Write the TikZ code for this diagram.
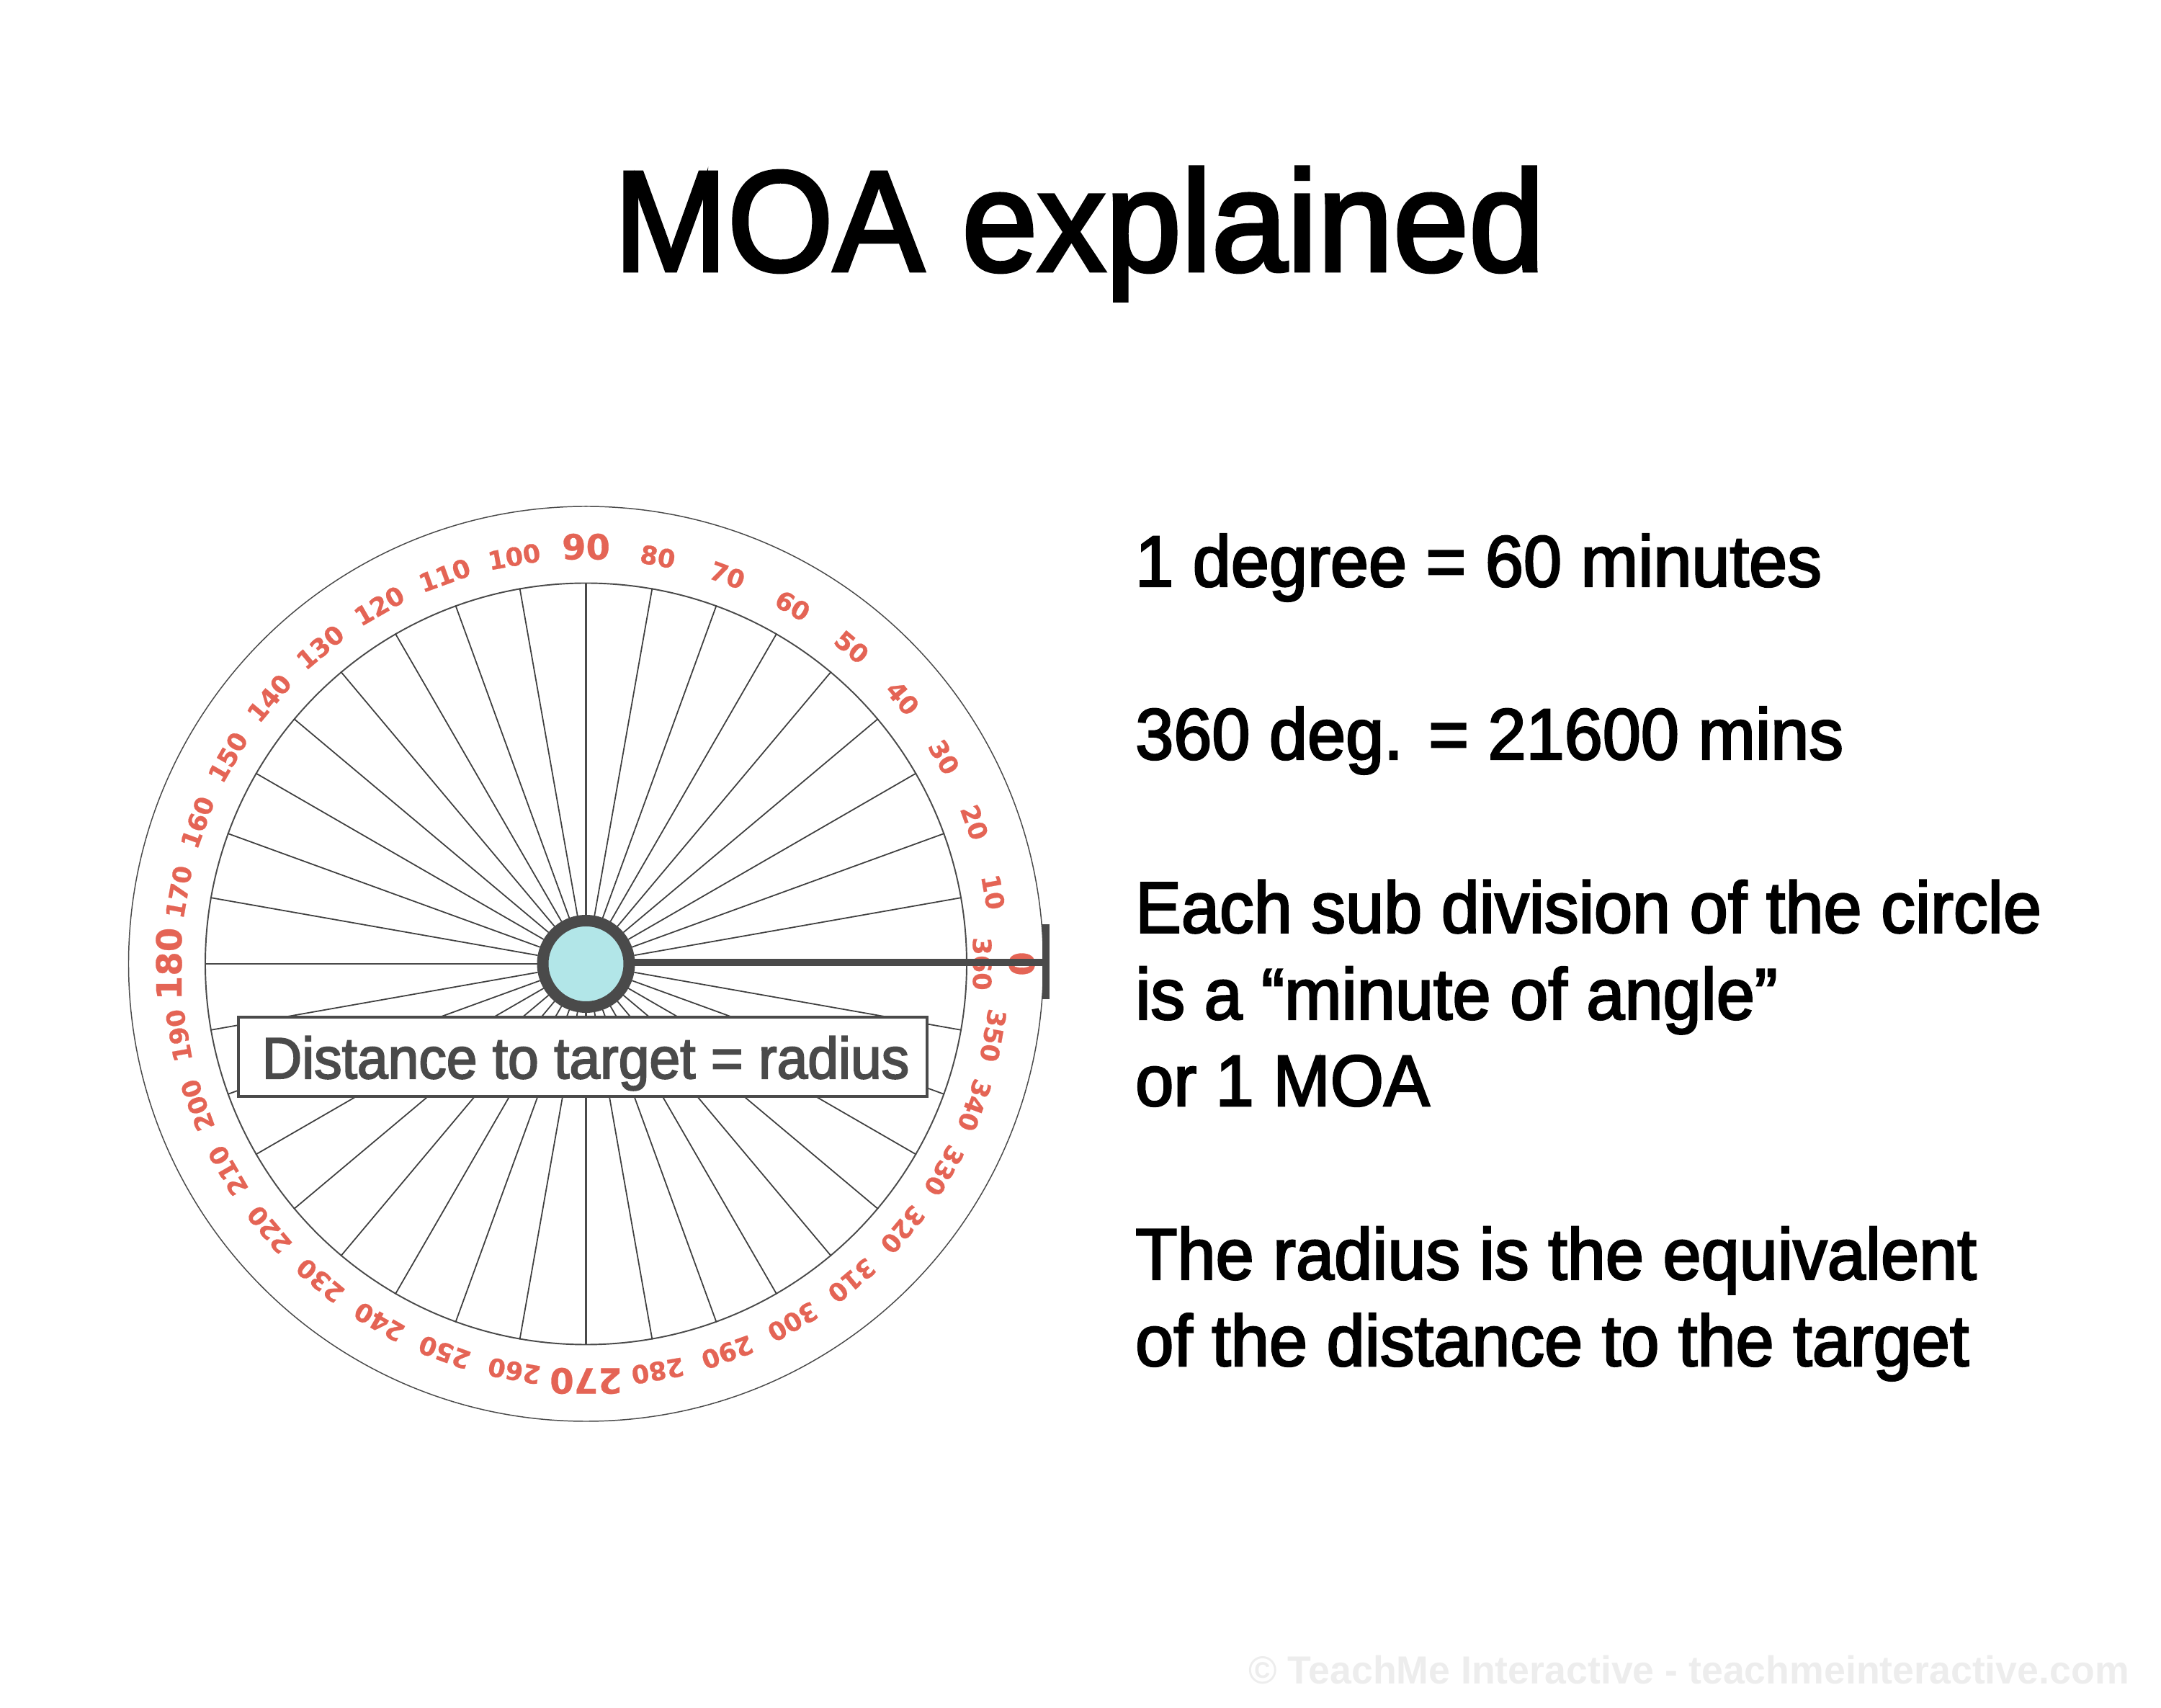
\documentclass[tikz,border=0pt]{standalone}
\usepackage{fontspec}
\setmainfont{Liberation Sans}[FakeBold=2.5,FakeStretch=0.95]
\newfontfamily\dialfont{DejaVu Sans}[BoldFeatures={FakeBold=0.6}]
\newfontfamily\markfont{Liberation Sans}[FakeStretch=0.985]
\definecolor{dialred}{RGB}{228, 100, 85}
\definecolor{hubgrey}{RGB}{74, 74, 74}
\definecolor{hubcyan}{RGB}{178, 230, 232}
\definecolor{markgrey}{RGB}{237, 237, 237}
\usetikzlibrary{positioning}
\tikzset{
  ringline/.style={draw=hubgrey, circle, inner sep=0pt, line width=0.42pt},
  spoke/.style={draw=hubgrey!85!black, line width=0.5pt},
  axisspoke/.style={draw=hubgrey, line width=0.75pt},
  pointer/.style={draw=hubgrey, line width=2.6pt},
  smalldeg/.style={text=dialred, inner sep=0pt, font=\dialfont\bfseries\fontsize{10}{10}\selectfont},
  bigdeg/.style={text=dialred, inner sep=0pt, font=\dialfont\bfseries\fontsize{13.7}{13.7}\selectfont},
  bodytext/.style={anchor=base west, align=left, inner sep=0pt, font=\fontsize{28.6}{34.2}\selectfont}
}

\begin{document}
\begin{tikzpicture}
  \useasboundingbox (-8.135, -10.33) rectangle (21.865, 13.38);

  % Title
  \node[anchor=base, inner sep=0pt, font=\fontsize{56.6}{56.6}\selectfont] (title) at (6.85, 9.62) {MOA explained};

  % Dial
  \node[ringline, minimum size=12.7cm] (dial) at (0, 0) {};
  \node[ringline, line width=0.55pt, minimum size=10.57cm] (rim) at (0, 0) {};
  \node[draw=hubgrey, fill=hubcyan, circle, inner sep=0pt, line width=4.55pt, minimum size=1.2cm] (hub) at (0, 0) {};
  \foreach \a in {10,20,...,80,100,110,...,170,190,200,...,260,280,290,...,350}
    \draw[spoke] (hub.\a) -- (rim.\a);
  \foreach \a in {90,180,270}
    \draw[axisspoke] (hub.\a) -- (rim.\a);

  % Degree labels
  \foreach \a in {10,20,...,80,100,110,...,170,190,200,...,260,280,290,...,350}
    \node[smalldeg, rotate=\a-90] (deg\a) at (\a:5.74) {\a};
  \foreach \a in {90,180,270}
    \node[bigdeg, rotate=\a-90] (deg\a) at (\a:5.79) {\a};
  \node[bigdeg, rotate=-90] (deg0) at (0:6.05) {0};
  \node[smalldeg, rotate=-90] (deg360) at (0:5.5) {360};

  % Radius pointer
  \coordinate (barmid) at (6.385, 0.02);
  \coordinate (bartop) at (6.385, 0.55);
  \coordinate (barbot) at (6.385, -0.49);
  \draw[pointer] (hub.east |- barmid) -- (barmid);
  \draw[pointer] (bartop) -- (barbot);

  \node[draw=hubgrey, fill=white, line width=1.15pt, minimum width=9.56cm, text height=0.85cm, text depth=0.25cm, inner sep=0pt, text=hubgrey, font=\fontsize{23}{23}\selectfont] (radius) at (-0.045, -1.29) {\hspace*{0.08cm}Distance to target = radius};

  % Explanation
  \node[bodytext] (fact1) at (7.62, 5.24) {1 degree = 60 minutes};
  \node[bodytext] (fact2) at (7.62, 2.84) {360 deg. = 21600 mins};
  \node[bodytext] (fact3) at (7.62, -1.97) {Each sub division of the circle\\is a “minute of angle”\\or 1 MOA};
  \node[bodytext] (fact4) at (7.62, -5.58) {The radius is the equivalent\\of the distance to the target};

  % Watermark
  \node[text=markgrey, inner sep=0pt, anchor=base east, font=\markfont\bfseries\fontsize{15.5}{15.5}\selectfont] (mark) at (21.43, -9.99) {© TeachMe Interactive - teachmeinteractive.com};
\end{tikzpicture}
\end{document}
